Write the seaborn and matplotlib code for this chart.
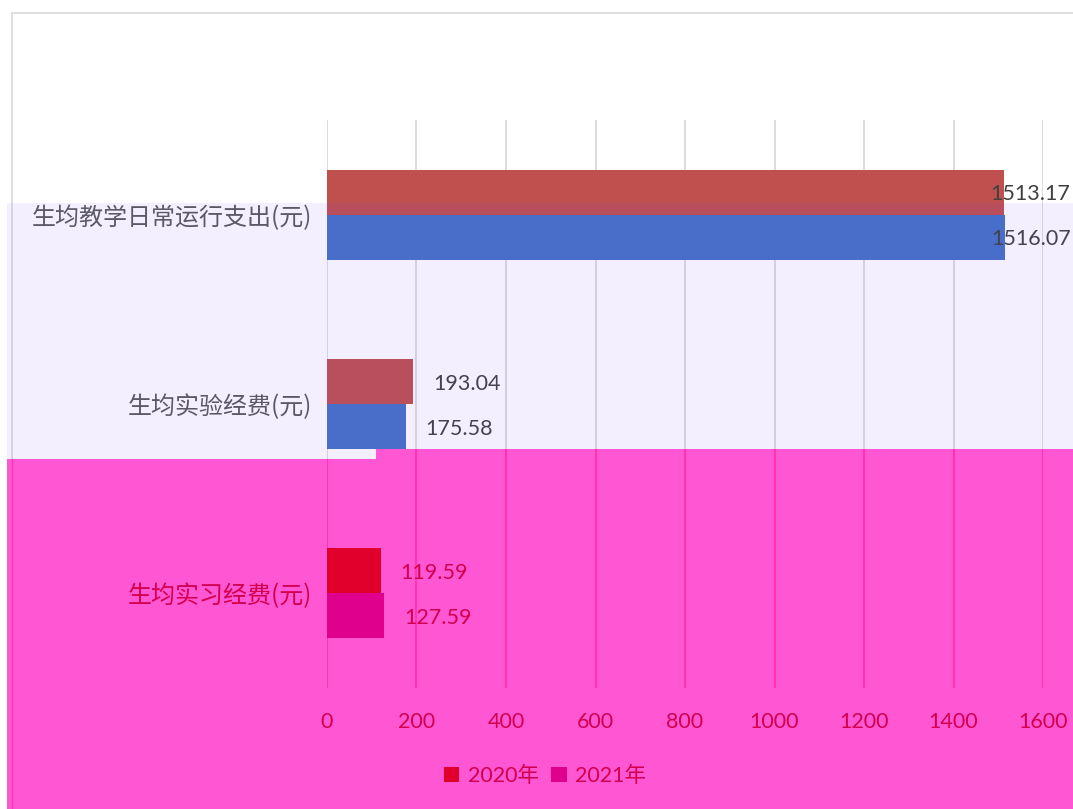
import pandas as pd
import seaborn as sns
import matplotlib.pyplot as plt
from matplotlib.patches import Rectangle, Polygon, Patch
from matplotlib.lines import Line2D

items = ['生均教学日常运行支出(元)', '生均实验经费(元)', '生均实习经费(元)']
years = ['2020年', '2021年']
v2020 = [1513.17, 193.04, 119.59]
v2021 = [1516.07, 175.58, 127.59]
xticks = [0, 200, 400, 600, 800, 1000, 1200, 1400, 1600]

df = pd.DataFrame({'item': items * 2,
                   'value': v2020 + v2021,
                   'year': [years[0]] * 3 + [years[1]] * 3})

sns.set_style('white')
plt.rcParams['font.family'] = ['Lato', 'Noto Sans CJK SC', 'DejaVu Sans']

W, H = 1073, 809
fx = lambda x: x / W
fy = lambda y: 1 - y / H

red, blue = '#C0504D', '#4472C4'
pink_red, pink_mag = '#E0002B', '#E0008E'
crimson = '#D2004E'
pink_bg = '#FF57D4'
pink_grid = '#FF33B4'

fig = plt.figure(figsize=(W / 100, H / 100), dpi=100)
fig.patch.set_facecolor('white')

# outer frame of the screenshot
fig.add_artist(Rectangle((fx(12), fy(812)), fx(1080) - fx(12), fy(13) - fy(812),
                         transform=fig.transFigure, facecolor='white',
                         edgecolor='#D9D9D9', lw=1.2, zorder=-3))
# pink block (step at x=376)
pink = Polygon([(fx(7), fy(459)), (fx(376), fy(459)), (fx(376), fy(449)),
                (fx(1075), fy(449)), (fx(1075), fy(812)), (fx(7), fy(812))],
               closed=True, transform=fig.transFigure, facecolor=pink_bg,
               edgecolor='none', zorder=-2)
fig.add_artist(pink)
fig.add_artist(Line2D([fx(12), fx(12)], [fy(459), fy(812)], transform=fig.transFigure,
                      color=pink_grid, lw=1, zorder=-1))

ax = fig.add_axes([fx(327), fy(688), fx(1043) - fx(327), fy(120) - fy(688)])
ax.set_facecolor('none')

sns.barplot(data=df, y='item', x='value', hue='year', orient='h',
            palette=[red, blue], width=0.475, saturation=1, ax=ax,
            legend=False, zorder=3, linewidth=0)

ax.set_xlim(0, 1600)
ax.set_ylim(2.5, -0.5)
ax.set_xticks(xticks)
ax.set_xticklabels([str(t) for t in xticks], fontsize=15.5, color=crimson)
ax.tick_params(axis='x', length=0, pad=17)
ax.tick_params(axis='y', length=0, pad=11)
ax.set_yticks(range(len(items)))
ax.set_yticklabels(items, fontsize=17.3, family=['Noto Sans CJK SC', 'DejaVu Sans'])
for i, lab in enumerate(ax.get_yticklabels()):
    lab.set_color(crimson if i == 2 else '#595959')
ax.set_xlabel('')
ax.set_ylabel('')
sns.despine(ax=ax, left=True, bottom=True)

# gridlines: grey above the pink block, darker pink inside it
ax_h = 688 - 120
for t in xticks:
    px = 327 + t * (1043 - 327) / 1600
    b = ((688 - 459) if px < 376 else (688 - 449)) / ax_h
    ax.vlines(t, b, 1, transform=ax.get_xaxis_transform(), color='#D9D9D9', lw=1.3, zorder=1)
    ax.vlines(t, 0, b, transform=ax.get_xaxis_transform(), color=pink_grid, lw=1.6, zorder=1)

# recolour the bars sitting in the pink block
ax.containers[0][2].set_facecolor(pink_red)
ax.containers[1][2].set_facecolor(pink_mag)

for cont in ax.containers:
    for j, bar in enumerate(cont):
        v = bar.get_width()
        yc = bar.get_y() + bar.get_height() / 2
        off = -10 if v > 1400 else 14.5
        ax.annotate(f'{v:.2f}', xy=(v, yc), xytext=(off, -1.5), textcoords='offset points',
                    ha='left', va='center', fontsize=15.5,
                    color=crimson if j == 2 else '#404040', zorder=5,
                    annotation_clip=False)

# lavender band laid over the middle of the chart
lav = Polygon([(fx(7), fy(203)), (fx(1075), fy(203)), (fx(1075), fy(449)),
               (fx(376), fy(449)), (fx(376), fy(459)), (fx(7), fy(459))],
              closed=True, transform=fig.transFigure, facecolor=(0.47, 0.31, 1.0),
              alpha=0.085, edgecolor='none', zorder=10)
fig.add_artist(lav)

handles = [Patch(facecolor=pink_red, edgecolor='none'), Patch(facecolor=pink_mag, edgecolor='none')]
fig.legend(handles, years, loc='center', bbox_to_anchor=(fx(545), fy(776)), ncol=2,
           frameon=False, fontsize=15.5, labelcolor=crimson, handlelength=0.7,
           handleheight=0.7, handletextpad=0.4, columnspacing=0.6)

fig.savefig('out.png', dpi=100)
